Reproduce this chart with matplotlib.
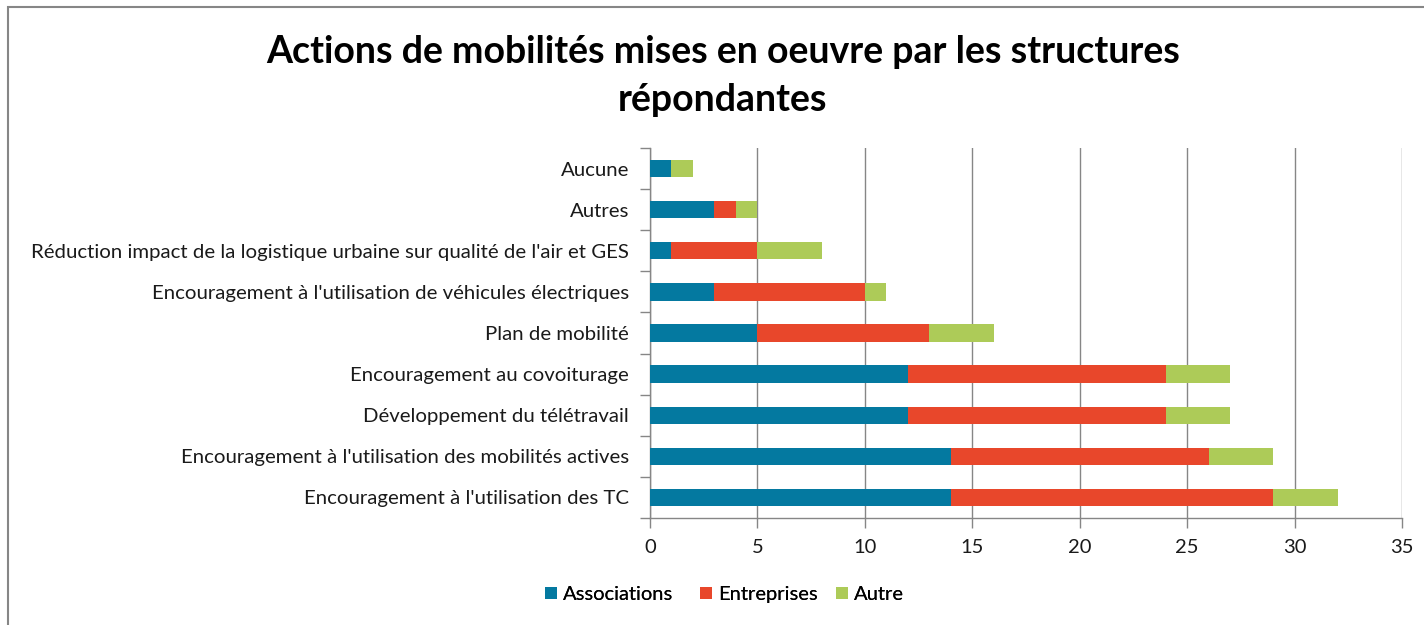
import matplotlib
matplotlib.use("Agg")
import matplotlib.pyplot as plt
from matplotlib.patches import Rectangle

categories = [
    "Encouragement à l'utilisation des TC",
    "Encouragement à l'utilisation des mobilités actives",
    "Développement du télétravail",
    "Encouragement au covoiturage",
    "Plan de mobilité",
    "Encouragement à l'utilisation de véhicules électriques",
    "Réduction impact de la logistique urbaine sur qualité de l'air et GES",
    "Autres",
    "Aucune",
]
associations = [14, 14, 12, 12, 5, 3, 1, 3, 1]
entreprises = [15, 12, 12, 12, 8, 7, 4, 1, 0]
autre = [3, 3, 3, 3, 3, 1, 3, 1, 1]
series_names = ["Associations", "Entreprises", "Autre"]
colors = ["#0479A0", "#E8472B", "#ADCB58"]
xticks = [0, 5, 10, 15, 20, 25, 30, 35]

plt.rcParams['font.family'] = ['Lato', 'DejaVu Sans']

fig = plt.figure(figsize=(14.24, 6.25), dpi=100)
W, H = 1424, 625
ax = fig.add_axes([650 / W, 1 - 518 / H, (1402 - 650) / W, (518 - 148) / H])

y = list(range(len(categories)))
left = [0] * len(categories)
for name, vals, c in zip(series_names, [associations, entreprises, autre], colors):
    ax.barh(y, vals, left=left, height=0.42, color=c, label=name, zorder=3)
    left = [l + v for l, v in zip(left, vals)]

ax.set_xlim(0, 35)
ax.set_ylim(-0.5, len(categories) - 0.5)
ax.set_xticks(xticks)
ax.set_yticks(y)
ax.set_yticklabels(categories, fontsize=14.7, color="#1a1a1a")
ax.set_yticks([i - 0.5 for i in range(len(categories) + 1)], minor=True)
ax.tick_params(axis='y', which='major', length=0, pad=15)
ax.tick_params(axis='y', which='minor', length=7, color="#868686", width=1)
ax.tick_params(axis='x', length=7, color="#868686", width=1, labelsize=14.5, pad=8,
               labelcolor="#1a1a1a")
ax.grid(axis='x', color="#868686", linewidth=1, zorder=0)
for s in ['top', 'right']:
    ax.spines[s].set_visible(False)
for s in ['left', 'bottom']:
    ax.spines[s].set_color("#868686")
    ax.spines[s].set_linewidth(1)

fig.text(723 / W, 1 - 52 / H, "Actions de mobilités mises en oeuvre par les structures",
         ha='center', va='center', fontsize=27, fontweight='bold', color="black")
fig.text(723 / W, 1 - 100 / H, "répondantes",
         ha='center', va='center', fontsize=27, fontweight='bold', color="black")

handles, labels = ax.get_legend_handles_labels()
leg_x = [545, 700, 836]
for h, l, lx in zip(handles, labels, leg_x):
    lg = fig.legend([h], [l], loc='upper left', bbox_to_anchor=(lx / W, 1 - 586 / H),
                    frameon=False, fontsize=14.5, handlelength=0.6, handleheight=0.6,
                    handletextpad=0.3, borderpad=0, borderaxespad=0)
    fig.add_artist(lg)

fig.patches.append(Rectangle((8 / W, -0.1), 1.2, 1 - 7 / H + 0.1, transform=fig.transFigure,
                             fill=False, edgecolor="#868686", linewidth=1.5))

fig.savefig("out.png", dpi=100)
